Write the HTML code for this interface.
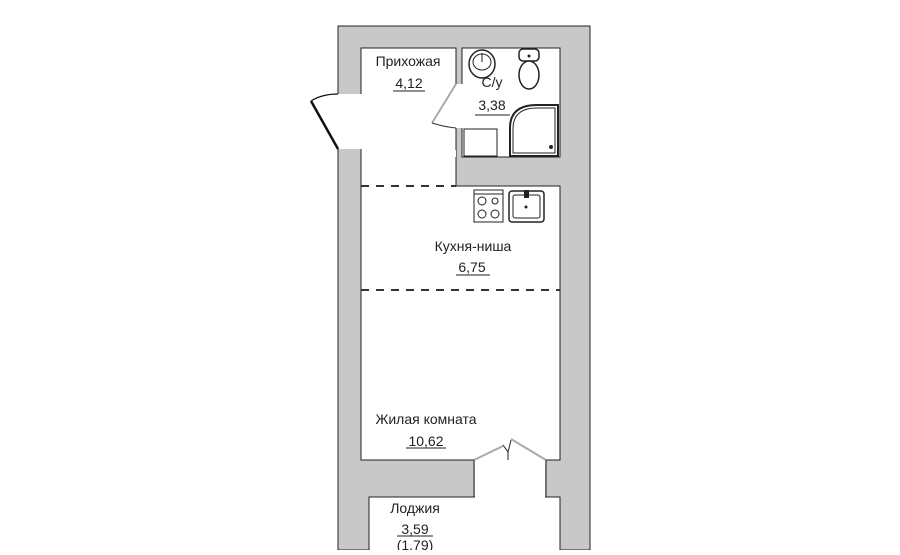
<!DOCTYPE html>
<html><head><meta charset="utf-8"><style>
body{margin:0;background:#fff;width:900px;height:550px;overflow:hidden}
text{font-family:"Liberation Sans Narrow","Liberation Sans",sans-serif;font-size:14px;fill:#222}
</style></head><body>
<svg width="900" height="550" viewBox="0 0 900 550" xmlns="http://www.w3.org/2000/svg">
<rect x="338" y="26" width="252" height="524" fill="#c8c8c8" stroke="#222" stroke-width="1"/>
<g fill="#fff" stroke="#222" stroke-width="1">
<rect x="361" y="48" width="95" height="142"/>
<rect x="462" y="48" width="98" height="109"/>
<rect x="361" y="186" width="199" height="274"/>
<rect x="369" y="497" width="191" height="60"/>
</g>
<rect x="337" y="94" width="25" height="55" fill="#fff"/>
<rect x="455" y="84" width="8" height="44" fill="#fff"/>
<rect x="362" y="150" width="94" height="40" fill="#fff"/>
<rect x="362" y="187" width="197" height="272" fill="#fff"/>
<rect x="475" y="458" width="70" height="40" fill="#fff"/>
<line x1="474" y1="460" x2="474" y2="497" stroke="#222"/>
<line x1="546" y1="460" x2="546" y2="497" stroke="#222"/>
<line x1="474" y1="497" x2="369" y2="497" stroke="#222"/>
<line x1="546" y1="497" x2="560" y2="497" stroke="#222"/>
<line x1="456" y1="157" x2="456" y2="186" stroke="#222"/>
<line x1="456" y1="186" x2="560" y2="186" stroke="#222"/>
<line x1="361" y1="186" x2="456" y2="186" stroke="#333" stroke-width="2" stroke-dasharray="8,7"/>
<line x1="361" y1="290" x2="560" y2="290" stroke="#333" stroke-width="2" stroke-dasharray="8,7"/>
<path d="M338 149 L311 101" stroke="#111" stroke-width="2.5" fill="none"/>
<path d="M311 101 Q322 94 338 94" stroke="#111" stroke-width="1.2" fill="none"/>
<path d="M456 84 L432 123" stroke="#aaa" stroke-width="2" fill="none"/>
<path d="M432 123 Q445 127 456 128" stroke="#333" stroke-width="1" fill="none"/>
<path d="M474 460 L503 446 M546 460 L511 439" stroke="#aaa" stroke-width="2" fill="none"/>
<path d="M503 445 L508 452 L508 460 M508 452 L511 440" stroke="#222" stroke-width="1" fill="none"/>
<ellipse cx="482" cy="64" rx="13" ry="14" fill="#fff" stroke="#222" stroke-width="1.5"/>
<ellipse cx="482" cy="62" rx="9" ry="8" fill="none" stroke="#222"/>
<line x1="482" y1="53" x2="482" y2="62" stroke="#222"/>
<rect x="519" y="49" width="20" height="12" rx="4" fill="#fff" stroke="#222" stroke-width="1.5"/>
<ellipse cx="529" cy="75" rx="10" ry="14" fill="#fff" stroke="#222" stroke-width="1.5"/>
<circle cx="529" cy="56" r="1.5" fill="#222"/>
<rect x="464" y="129" width="33" height="27" fill="#fff" stroke="#222"/>
<path d="M510 156 L510 128 Q510 105 537 105 L558 105 L558 156 Z" fill="#fff" stroke="#222" stroke-width="2"/>
<path d="M513 153 L513 129 Q513 108 537 108 L555 108 L555 153 Z" fill="none" stroke="#222"/>
<circle cx="551" cy="147" r="2" fill="#222"/>
<rect x="474" y="190" width="29" height="32" fill="#fff" stroke="#222"/>
<line x1="474" y1="194" x2="503" y2="194" stroke="#222"/>
<g fill="none" stroke="#222"><circle cx="482" cy="201" r="4"/><circle cx="495" cy="201" r="3"/><circle cx="482" cy="214" r="4"/><circle cx="495" cy="214" r="4"/></g>
<rect x="509" y="191" width="35" height="31" rx="3" fill="#fff" stroke="#222" stroke-width="1.5"/>
<rect x="513" y="195" width="27" height="23" rx="2" fill="none" stroke="#222"/>
<rect x="524" y="190" width="5" height="8" fill="#222"/>
<circle cx="526" cy="207" r="1.5" fill="#222"/>
<text x="408" y="66" text-anchor="middle">Прихожая</text>
<text x="409" y="88" text-anchor="middle">4,12</text><line x1="393" y1="91" x2="425" y2="91" stroke="#222"/>
<text x="492" y="87" text-anchor="middle">С/у</text>
<text x="492" y="110" text-anchor="middle">3,38</text><line x1="475" y1="115" x2="510" y2="115" stroke="#222"/>
<text x="473" y="251" text-anchor="middle">Кухня-ниша</text>
<text x="472" y="272" text-anchor="middle">6,75</text><line x1="456" y1="275" x2="490" y2="275" stroke="#222"/>
<text x="426" y="424" text-anchor="middle">Жилая комната</text>
<text x="426" y="446" text-anchor="middle">10,62</text><line x1="406" y1="448" x2="446" y2="448" stroke="#222"/>
<text x="415" y="513" text-anchor="middle">Лоджия</text>
<text x="415" y="534" text-anchor="middle">3,59</text><line x1="397" y1="536" x2="433" y2="536" stroke="#222"/>
<text x="415" y="550" text-anchor="middle">(1,79)</text>
</svg>
</body></html>
